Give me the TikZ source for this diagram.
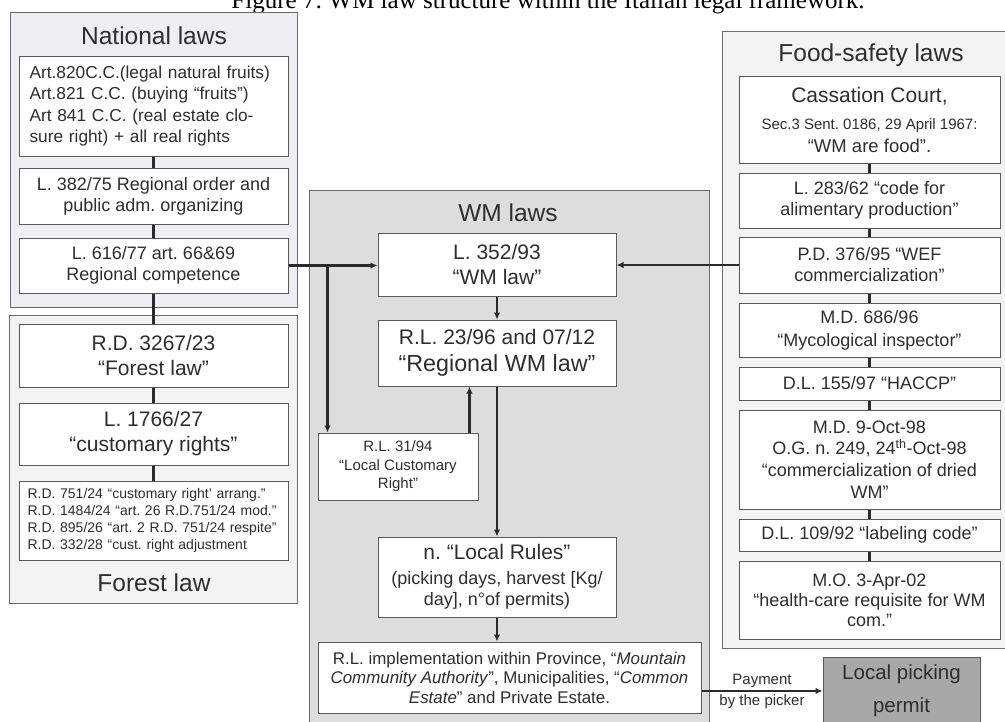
\documentclass[tikz,border=0pt]{standalone}
\usepackage{fontspec}
\setmainfont{Liberation Sans}
\newfontfamily\captionserif{Liberation Serif}
\usetikzlibrary{arrows.meta}
\frenchspacing

\definecolor{ink}{HTML}{2E2E2E}
\definecolor{linkcol}{HTML}{2A2A2A}
\definecolor{boxedge}{HTML}{5A5A5A}
\definecolor{groupedge}{HTML}{6A6A6A}
\definecolor{natfill}{RGB}{238,238,243}
\definecolor{forestfill}{RGB}{243,243,243}
\definecolor{wmfill}{RGB}{221,221,221}
\definecolor{foodfill}{RGB}{243,243,243}
\definecolor{permitfill}{RGB}{168,168,168}

\tikzset{
  every node/.style={text=ink, inner sep=0pt},
  wh/.style 2 args={minimum width=#1pt, minimum height=#2pt},
  group/.style={draw=groupedge, line width=1pt},
  lawbox/.style={draw=boxedge, fill=white, line width=1pt, align=center},
  grouptitle/.style={font=\fontsize{24.5}{28}\selectfont},
  link/.style={draw=linkcol, line width=2.2pt},
  arr/.style={link, -{Latex[length=7pt,width=6.5pt]}},
  fA/.style={font=\fontsize{21}{25}\selectfont},
  fB/.style={font=\fontsize{18}{21}\selectfont},
  fC/.style={font=\fontsize{15}{18.5}\selectfont},
}

\begin{document}
\frenchspacing
\begin{tikzpicture}[x=1pt,y=-1pt]
\useasboundingbox (0,0) rectangle (1005,721);

% caption line, mostly above the page edge
\node[font=\captionserif\fontsize{25}{30}\selectfont, text=black, anchor=base]
  (caption) at (548,8) {Figure 7: WM law structure within the Italian legal framework.};

% ---------- group panels ----------
\node[group, fill=natfill, wh={287}{295}] (natgroup) at (153.5,159.5) {};
\node[group, fill=forestfill, wh={288}{288}] (forestgroup) at (153,459) {};
\node[group, fill=wmfill, wh={400}{550}] (wmgroup) at (509,465) {};
\node[group, fill=foodfill, wh={290}{617}] (foodgroup) at (867,339.5) {};

\node[grouptitle] (nattitle) at (154,36) {National laws};
\node[grouptitle] (foresttitle) at (154,583) {Forest law};
\node[grouptitle] (wmtitle) at (508,213) {WM laws};
\node[grouptitle] (foodtitle) at (871,55) {Food-safety laws};

% ---------- national laws ----------
\node[lawbox, wh={269}{100}, align=left, text width=248pt,
      font=\fontsize{17.3}{21.6}\selectfont] (n1) at (153.5,106)
  {Art.820C.C.(legal natural fruits)\\
   Art.821 C.C. (buying “fruits”)\\
   Art 841 C.C. (real estate clo-\\
   sure right) + all real rights};
\node[lawbox, wh={269}{56}, font=\fontsize{18}{20.7}\selectfont] (n2) at (153.5,196)
  {L. 382/75 Regional order and\\public adm. organizing};
\node[lawbox, wh={269}{55}, font=\fontsize{18}{21}\selectfont] (n3) at (153.5,265.5)
  {L. 616/77 art. 66\&69\\Regional competence};

% ---------- forest law ----------
\node[lawbox, wh={269}{63}, fA] (f1) at (153.5,355.5)
  {R.D. 3267/23\\“Forest law”};
\node[lawbox, wh={269}{62}, fA] (f2) at (153.5,434)
  {L. 1766/27\\“customary rights”};
\node[lawbox, wh={269}{79}, align=left, text width=252pt,
      font=\fontsize{14}{17}\selectfont] (f3) at (153.5,520.5)
  {R.D. 751/24 “customary right’ arrang.”\\
   R.D. 1484/24 “art. 26 R.D.751/24 mod.”\\
   R.D. 895/26 “art. 2 R.D. 751/24 respite”\\
   R.D. 332/28 “cust. right adjustment};

% ---------- WM laws ----------
\node[lawbox, wh={238}{63}, fA] (w1) at (497,264.5)
  {L. 352/93\\“WM law”};
\node[lawbox, wh={238}{66}, font=\fontsize{21}{27}\selectfont] (w2) at (497,353)
  {R.L. 23/96 and 07/12\\{\fontsize{23.3}{27}\selectfont “Regional WM law”}};
\node[lawbox, wh={160}{67}, fC] (w3) at (398,466.5)
  {R.L. 31/94\\“Local Customary\\Right”};
\node[lawbox, wh={238}{80}, fB] (w4) at (497,577)
  {{\fontsize{21}{25}\selectfont n. “Local Rules”}\\[4pt]
   (picking days, harvest [Kg/\\day], n°of permits)};
\node[lawbox, wh={383}{71}, font=\fontsize{16.9}{19.5}\selectfont] (w5) at (509.5,677.5)
  {R.L. implementation within Province, “\textit{Mountain}\\
   \textit{Community Authority}”, Municipalities, “\textit{Common}\\
   \textit{Estate}” and Private Estate.};

% ---------- food-safety laws ----------
\node[lawbox, wh={261}{87}, fB] (c1) at (869.5,119.5)
  {{\fontsize{21}{25}\selectfont Cassation Court,}\\[6pt]
   {\fontsize{15}{18}\selectfont Sec.3 Sent. 0186, 29 April 1967:}\\[2pt]
   {\fontsize{18.5}{21}\selectfont “WM are food”.}};
\node[lawbox, wh={261}{55}, fB] (c2) at (869.5,200.5)
  {L. 283/62 “code for\\alimentary production”};
\node[lawbox, wh={261}{56}, fB] (c3) at (869.5,265)
  {P.D. 376/95 “WEF\\commercialization”};
\node[lawbox, wh={261}{54}, fB] (c4) at (869.5,330)
  {M.D. 686/96\\[2pt]“Mycological inspector”};
\node[lawbox, wh={261}{33}, fB] (c5) at (869.5,383.5)
  {D.L. 155/97 “HACCP”};
\node[lawbox, wh={261}{99}, font=\fontsize{18}{21.7}\selectfont] (c6) at (869.5,459.5)
  {M.D. 9-Oct-98\\O.G. n. 249, 24\textsuperscript{th}-Oct-98\\“commercialization of dried\\WM”};
\node[lawbox, wh={261}{32}, fB] (c7) at (869.5,535)
  {D.L. 109/92 “labeling code”};
\node[lawbox, wh={261}{78}, font=\fontsize{18}{20}\selectfont] (c8) at (869.5,600)
  {M.O. 3-Apr-02\\“health-care requisite for WM\\com.”};

% ---------- permit ----------
\node[draw=boxedge, line width=1pt, fill=permitfill, wh={157}{68}, align=center,
      font=\fontsize{20.5}{33}\selectfont] (permit) at (901.5,691)
  {Local picking\\permit};

% ---------- connectors ----------
\draw[link] (n1) -- (n2);
\draw[link] (n2) -- (n3);
\draw[link] (n3) -- (f1);
\draw[link] (f1) -- (f2);
\draw[link] (f2) -- (f3);

\draw[arr] (n3.east) -- (n3.east -| w1.west);
\path (n3.east) ++(39,0) coordinate (split);
\draw[arr] (split) -- (split |- w3.north);
\draw[arr] ([xshift=-9pt]w3.north east) -- ([xshift=-9pt]w3.north east |- w2.south);
\draw[arr] (w1) -- (w2);
\draw[arr] (w2) -- (w4);
\draw[arr] (w4.south) -- (w4.south |- w5.north);
\draw[arr] (c3.west) -- (c3.west -| w1.east);

\draw[link] (c1) -- (c2);
\draw[link] (c2) -- (c3);
\draw[link] (c3) -- (c4);
\draw[link] (c4) -- (c5);
\draw[link] (c5) -- (c6);
\draw[link] (c6) -- (c7);
\draw[link] (c7) -- (c8);

\draw[arr] (w5.east |- permit.west) -- (permit.west)
  node[midway, above=2.5pt, font=\fontsize{15}{18}\selectfont] (paylabel) {Payment}
  node[midway, below=3pt, font=\fontsize{15}{18}\selectfont] (pickerlabel) {by the picker};
\end{tikzpicture}
\end{document}
